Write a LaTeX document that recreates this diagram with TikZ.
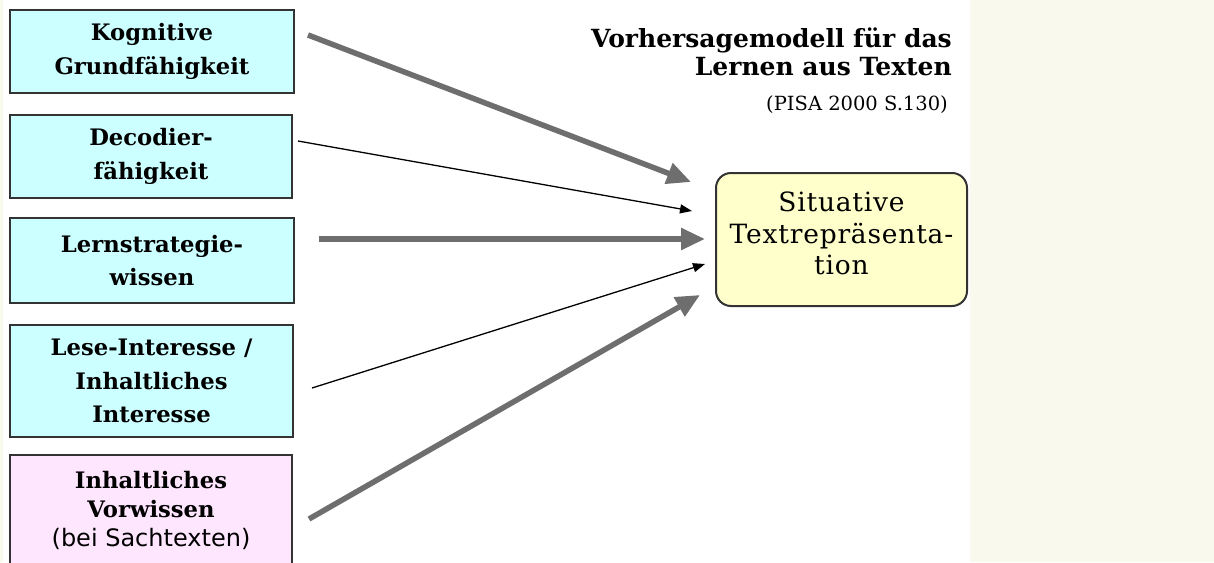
\documentclass[tikz,border=0pt]{standalone}
\usepackage{fontspec}
\setmainfont{DejaVu Serif}
\newfontfamily\sansf{DejaVu Sans}
\newfontfamily\sitfont[LetterSpace=3]{DejaVu Serif}
\usetikzlibrary{arrows.meta,calc}
\definecolor{panel}{RGB}{250,249,238}
\definecolor{cyanfill}{RGB}{204,255,255}
\definecolor{pinkfill}{RGB}{255,230,255}
\definecolor{yellowfill}{RGB}{255,255,204}
\definecolor{border}{RGB}{51,51,51}
\definecolor{arrowgray}{RGB}{110,110,110}
\tikzset{
  factor/.style={draw=border, line width=2pt, fill=cyanfill, align=center, inner sep=0pt,
    font=\bfseries\fontsize{22.7}{33.5}\selectfont},
  target/.style={draw=border, line width=2pt, fill=yellowfill, rounded corners=15pt,
    inner sep=0pt, minimum width=251pt, minimum height=133pt},
  targettext/.style={align=center, inner sep=0pt, font=\sitfont\fontsize{26.5}{31.5}\selectfont},
  strong/.style={draw=arrowgray, line width=5.5pt, -{Triangle[length=24pt,width=21pt]}},
  weak/.style={draw=black, line width=1.3pt, -{Triangle[length=12pt,width=9pt]}},
  titletext/.style={anchor=base east, inner sep=0pt, font=\bfseries\fontsize{25}{28}\selectfont},
}
\begin{document}
\begin{tikzpicture}[x=1pt,y=-1pt]
\useasboundingbox (0,0) rectangle (1214,562);
\fill[white] (0,0) rectangle (1214,562);
\fill[panel] (0,0) rectangle (3,562);
\fill[panel] (970,0) rectangle (1214,562);
\begin{scope}
\clip (0,0) rectangle (1214,562);
\node[factor, minimum width=284pt, minimum height=83pt] (k1) at (152,51.5) {Kognitive\\Grundfähigkeit};
\node[factor, minimum width=282pt, minimum height=83pt] (k2) at (151,156.5) {Decodier-\\fähigkeit};
\node[factor, minimum width=284pt, minimum height=85pt] (k3) at (152,260.5) {Lernstrategie-\\wissen};
\node[factor, minimum width=283pt, minimum height=112pt] (k4) at (151.5,381) {Lese-Interesse /\\Inhaltliches\\Interesse};
\node[factor, fill=pinkfill, minimum width=282pt, minimum height=150pt] (k5) at (151,530) {};
\node[align=center, inner sep=0pt, font=\bfseries\fontsize{22.7}{29}\selectfont] (k5t) at (151,510)
  {Inhaltliches\\Vorwissen\\{\sansf\mdseries\fontsize{24}{29}\selectfont (bei Sachtexten)}};
\end{scope}
\node[target] (sit) at (841.5,239.5) {};
\node[targettext] (sitt) at ($(sit.center)+(0,-6)$) {Situative\\Textrepräsenta-\\tion};
\node[titletext] (t1) at (952,47) {Vorhersagemodell für das};
\node[titletext] (t2) at (952,75) {Lernen aus Texten};
\node[anchor=base east, inner sep=0pt, font=\fontsize{19.5}{22}\selectfont] (t3) at (948,110) {(PISA 2000 S.130)};
\draw[strong] ($(k1.east)+(13,-16.5)$) -- ($(sit.west)+(-24,-57.5)$);
\draw[weak] ($(k2.east)+(5,-15.5)$) -- ($(sit.west)+(-23,-28.5)$);
\draw[strong] ($(k3.east)+(24,-21.5)$) -- ($(sit.west)+(-10,-0.5)$);
\draw[weak] ($(k4.east)+(18,7)$) -- ($(sit.west)+(-10,24.5)$);
\draw[strong] ($(k5.east)+(16,-11)$) -- ($(sit.west)+(-15,55.5)$);
\end{tikzpicture}
\end{document}
